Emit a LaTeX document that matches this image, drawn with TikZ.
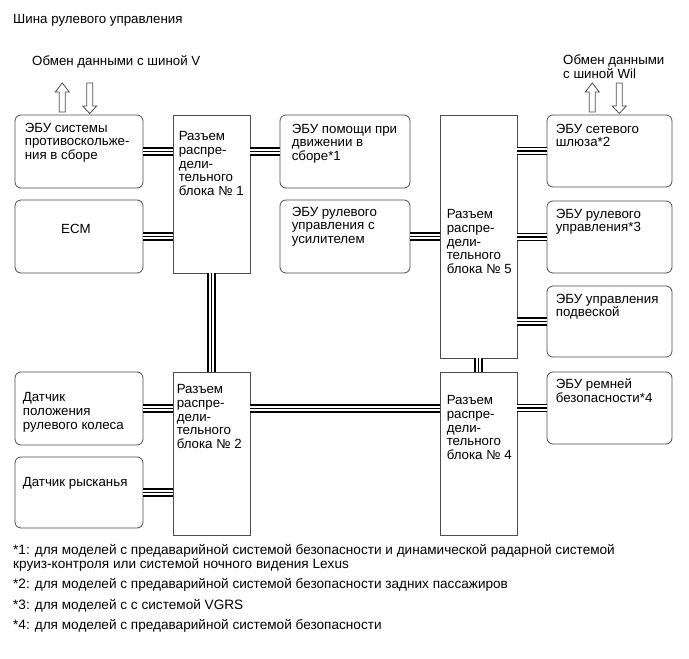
\documentclass[tikz,border=0pt]{standalone}
\usepackage{fontspec}
\setmainfont{Liberation Sans}
\usepackage{tikz}
\usetikzlibrary{calc}

\tikzset{
  ecu/.style={draw=black!70,line width=0.8pt,rounded corners=6pt,minimum width=128pt,minimum height=73pt,inner sep=0pt},
  junc/.style={draw=black!70,line width=0.8pt,minimum width=77pt,inner sep=0pt},
  txt/.style={anchor=north west,align=left,inner sep=0pt},
  note/.style={anchor=west,inner sep=0pt,font=\fontsize{13.6}{13.8}\selectfont},
  bus/.style={draw=black,line width=8.9pt,postaction={draw=white,line width=1.9pt,double=black,double distance=1.7pt}},
  hollow/.style={draw=black!70,line width=0.8pt,fill=white,line join=miter}
}

\begin{document}
\begin{tikzpicture}[x=1pt,y=-1pt,font=\fontsize{13.3}{13.6}\selectfont]
\useasboundingbox (0,0) rectangle (689,659);
% headings
\node[anchor=west,inner sep=0pt] (title) at (13,20) {Шина рулевого управления};
\node[anchor=west,inner sep=0pt] (vbus) at (32,62) {Обмен данными с шиной V};
\node[txt] (wbus) at (563,55) {Обмен данными\\с шиной Wil};
% in/out arrows
\foreach \c in {62.3,592.3}
  \draw[hollow] (\c-3,112)--(\c-3,92)--(\c-7,92)--(\c,83)--(\c+7,92)--(\c+3,92)--(\c+3,112)--cycle;
\foreach \c in {89.7,619.3}
  \draw[hollow] (\c-3,83)--(\c-3,106)--(\c-7,106)--(\c,113.5)--(\c+7,106)--(\c+3,106)--(\c+3,83)--cycle;
% junction blocks
\node[junc,minimum height=158pt] (j1) at (211.5,194) {};
\node[junc,minimum height=163pt] (j2) at (211.5,453.5) {};
\node[junc,minimum height=243pt] (j5) at (478.5,236.5) {};
\node[junc,minimum height=163pt] (j4) at (478.5,453.5) {};
% control units, left
\node[ecu] (abs) at (79,151.5) {};
\node[ecu] (ecm) at (79,236.5) {};
\node[ecu] (pos) at (79,408.5) {};
\node[ecu,minimum height=71pt] (yaw) at (79,492.5) {};
% control units, middle
\node[ecu,minimum width=130pt] (assist) at (345,151.5) {};
\node[ecu,minimum width=130pt] (eps) at (345,236.5) {};
% control units, right
\node[ecu,minimum width=125pt,minimum height=72pt] (gw) at (609.5,151) {};
\node[ecu,minimum width=125pt,minimum height=72pt] (vgrs) at (609.5,237) {};
\node[ecu,minimum width=125pt,minimum height=71pt] (susp) at (609.5,321.5) {};
\node[ecu,minimum width=125pt,minimum height=72pt] (belt) at (609.5,408) {};
% texts
\node[txt] (absT) at ([shift={(10,8)}]abs.north west) {ЭБУ системы\\противоскольже-\\ния в сборе};
\node (ecmT) at (76,229) {ECM};
\node[txt] (posT) at ([shift={(8,21)}]pos.north west) {Датчик\\положения\\рулевого колеса};
\node[txt] (yawT) at ([shift={(8,21)}]yaw.north west) {Датчик рысканья};
\node[txt] (assistT) at ([shift={(12,9)}]assist.north west) {ЭБУ помощи при\\движении в\\сборе*1};
\node[txt] (epsT) at ([shift={(12,7)}]eps.north west) {ЭБУ рулевого\\управления с\\усилителем};
\node[txt] (gwT) at ([shift={(9,9)}]gw.north west) {ЭБУ сетевого\\шлюза*2};
\node[txt] (vgrsT) at ([shift={(9,8)}]vgrs.north west) {ЭБУ рулевого\\управления*3};
\node[txt] (suspT) at ([shift={(9,8)}]susp.north west) {ЭБУ управления\\подвеской};
\node[txt] (beltT) at ([shift={(9,7)}]belt.north west) {ЭБУ ремней\\безопасности*4};
\node[txt] (j1T) at ([shift={(6,17)}]j1.north west) {Разъем\\распре-\\дели-\\тельного\\блока № 1};
\node[txt] (j2T) at ([shift={(4,13)}]j2.north west) {Разъем\\распре-\\дели-\\тельного\\блока № 2};
\node[txt] (j5T) at ([shift={(7,95)}]j5.north west) {Разъем\\распре-\\дели-\\тельного\\блока № 5};
\node[txt] (j4T) at ([shift={(7,24)}]j4.north west) {Разъем\\распре-\\дели-\\тельного\\блока № 4};
% bus lines
\draw[bus] (abs.east) -- (abs.east -| j1.west);
\draw[bus] (ecm.east) -- (ecm.east -| j1.west);
\draw[bus] (j1.east |- assist) -- (assist.west);
\draw[bus] (eps.east) -- (eps.east -| j5.west);
\foreach \n in {gw,vgrs,susp}
  \draw[bus] (j5.east |- \n) -- (\n.west);
\draw[bus] (j4.east |- belt) -- (belt.west);
\draw[bus] (pos.east) -- (pos.east -| j2.west);
\draw[bus] (yaw.east) -- (yaw.east -| j2.west);
\draw[bus] (j2.east |- pos) -- (j4.west |- pos);
\draw[bus] (j1.south) -- (j2.north);
\draw[bus] (j5.south) -- (j4.north);
% footnotes
\node[note,anchor=north west,align=left] (n1) at (13,544) {*1: для моделей с предаварийной системой безопасности и динамической радарной системой\\круиз-контроля или системой ночного видения Lexus};
\node[note] (n2) at (13,585) {*2: для моделей с предаварийной системой безопасности задних пассажиров};
\node[note] (n3) at (13,606) {*3: для моделей с с системой VGRS};
\node[note] (n4) at (13,626) {*4: для моделей с предаварийной системой безопасности};
\end{tikzpicture}
\end{document}
